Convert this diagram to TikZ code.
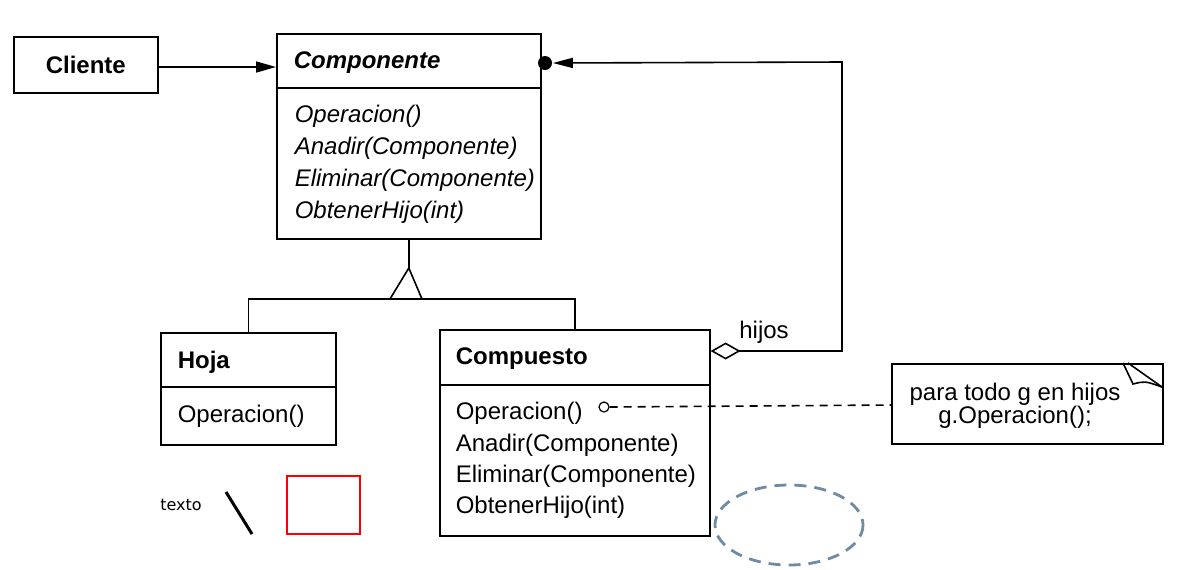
\documentclass[tikz,border=0pt]{standalone}
\usepackage{fontspec}
\setmainfont{Liberation Sans}
\newfontfamily\dejavu{DejaVu Sans}
\usetikzlibrary{arrows.meta}
\definecolor{slate}{RGB}{110,139,163}

\begin{document}
\begin{tikzpicture}[x=0.5pt,y=-0.5pt,
  cls/.style={draw,line width=0.8pt,inner sep=0,anchor=north west},
  txt/.style={anchor=west,inner sep=0,yshift=-1.25pt,font=\fontsize{12}{14}\selectfont},
  line width=0.8pt]
\useasboundingbox (0,0) rectangle (1198,569);
% clases
\node[cls,minimum width=72pt,minimum height=28pt,font=\fontsize{12}{14}\selectfont\bfseries] (cliente) at (13,36) {Cliente};
\node[cls,minimum width=132pt,minimum height=102.5pt] (comp) at (276,33) {};
\node[cls,minimum width=87.5pt,minimum height=56pt] (hoja) at (160,332) {};
\node[cls,minimum width=135pt,minimum height=103pt] (compuesto) at (439,329) {};
\draw (comp.west |- 0,88) -- (comp.east |- 0,88);
\draw (hoja.west |- 0,387) -- (hoja.east |- 0,387);
\draw (compuesto.west |- 0,385) -- (compuesto.east |- 0,385);
\node[txt,font=\fontsize{12}{14}\selectfont\bfseries\itshape] (comptitle) at (293,60) {Componente};
\node[txt,font=\fontsize{12}{14}\selectfont\bfseries] (hojatitle) at (177,360) {Hoja};
\node[txt,font=\fontsize{12}{14}\selectfont\bfseries] (compuestotitle) at (455,356) {Compuesto};
\foreach \m [count=\i] in {Operacion(),Anadir(Componente),Eliminar(Componente),ObtenerHijo(int)}{
  \node[txt,font=\fontsize{12}{14}\selectfont\itshape] (compm\i) at (294,{114+(\i-1)*32}) {\m};
  \node[txt] (compuestom\i) at (455,{411+(\i-1)*31.3}) {\m};
}
\node[txt] (hojam1) at (177,414) {Operacion()};
% relaciones
\draw[-{Triangle[length=10pt,width=5.5pt]}] (cliente.east |- 0,67) -- (comp.west |- 0,67);
\draw (comp.south) -- (comp.south |- 0,268);
\draw (comp.south |- 0,268) -- (390,299) -- (422,299) -- cycle;
\draw (hoja.north) -- (hoja.north |- 0,299) -- (compuesto.north |- 0,299) -- (compuesto.north);
\node[circle,fill,inner sep=0,minimum size=7pt] (muchos) at (545,63) {};
\draw[{Diamond[open,length=15pt,width=8.5pt]}-{Triangle[length=10pt,width=5pt]}] (compuesto.east |- 0,351) -- (842,351) -- (842,62) -- (muchos.east);
\node[txt,anchor=center] (hijos) at (764,330) {hijos};
% nota
\node[cls,minimum width=135.5pt,minimum height=40pt] (nota) at (891,363) {};
\draw (1123,363) -- (1133,384) .. controls (1145,381) .. (1162,387);
\draw (1128,363) -- (1162,387);
\node[txt,anchor=center,align=center,font=\fontsize{12}{11.5}\selectfont] (notatxt) at (1015,403) {para todo g en hijos\\g.Operacion();};
\node[circle,draw,inner sep=0,minimum size=5pt,line width=0.6pt] (opdot) at (604,407) {};
\draw[dash pattern=on 4pt off 3pt] (opdot.east) -- (nota.west |- 0,405);
% sueltos
\node[inner sep=0,font=\dejavu\fontsize{8}{10}\selectfont] (texto) at (181,505) {texto};
\draw[line width=1.5pt] (226,492) -- (252,534);
\draw[red,line width=1pt] (287,476) rectangle (360,534);
\draw[slate,line width=1.4pt,dash pattern=on 6pt off 4pt] (789,525) ellipse (74 and 40);
\end{tikzpicture}
\end{document}
